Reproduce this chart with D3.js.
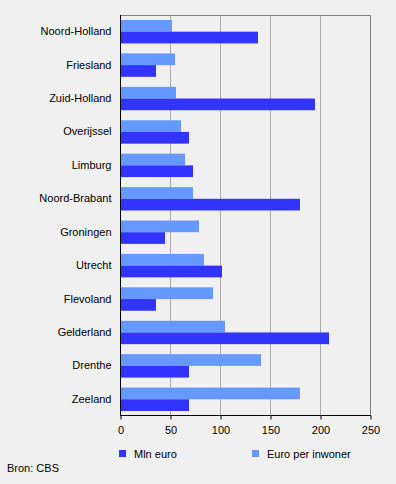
<!DOCTYPE html>
<html>
<head>
<meta charset="utf-8">
<script src="https://cdn.jsdelivr.net/npm/d3@7"></script>
<style>
  body { margin: 0; background: #f0f0f0; }
  svg { display: block; font-family: "Liberation Sans", Arial, sans-serif; }
</style>
</head>
<body>
<svg></svg>
<script>
// provincies, boven naar beneden
var provincies = ['Noord-Holland', 'Friesland', 'Zuid-Holland', 'Overijssel', 'Limburg', 'Noord-Brabant',
    'Groningen', 'Utrecht', 'Flevoland', 'Gelderland', 'Drenthe', 'Zeeland']
var mlnEuro = [138, 36, 195, 69, 73, 180, 45, 102, 36, 209, 69, 69]
var euroPerInwoner = [52, 55, 56, 61, 65, 73, 79, 84, 93, 105, 141, 180]
var ticks = [0, 50, 100, 150, 200, 250]
var seriesNames = ['Mln euro', 'Euro per inwoner']
var colors = ['#3333ff', '#6699ff']

var width = 396,
    height = 484,
    font = '"Liberation Sans", Arial, sans-serif';

var svg = d3.select('svg')
    .attr('width', width)
    .attr('height', height)

var xScale = d3.scaleLinear()
    .domain([0, 250])
    .range([120, 370])

var yScale = d3.scaleBand()
    .domain(provincies)
    .range([15, 416])
    .paddingInner(0.3)
    .paddingOuter(0.15)

var sub = d3.scaleBand()
    .domain(['inw', 'mln'])
    .range([0, yScale.bandwidth()])

// grid + frame
svg.append('g')
    .selectAll('line')
    .data(ticks.slice(1, -1))
    .join('line')
    .attr('x1', d => xScale(d) + 0.5)
    .attr('x2', d => xScale(d) + 0.5)
    .attr('y1', 15)
    .attr('y2', 416)
    .attr('stroke', '#aaaaaa')

svg.append('path')
    .attr('d', 'M' + (xScale(0)) + ',15.5H' + (xScale(250) + 0.5) + 'V416')
    .attr('fill', 'none')
    .attr('stroke', '#808080')

var rows = svg.selectAll('.row')
    .data(provincies)
    .join('g')
    .attr('class', 'row')

rows.append('rect')
    .attr('x', xScale(0))
    .attr('y', d => yScale(d))
    .attr('height', sub.bandwidth())
    .attr('width', (d, i) => xScale(euroPerInwoner[i]) - xScale(0))
    .attr('fill', colors[1])

rows.append('rect')
    .attr('x', xScale(0))
    .attr('y', d => yScale(d) + sub('mln'))
    .attr('height', sub.bandwidth())
    .attr('width', (d, i) => xScale(mlnEuro[i]) - xScale(0))
    .attr('fill', colors[0])

// y axis
var yAxis = d3.axisLeft(yScale).tickSize(0).tickPadding(9)
var yg = svg.append('g')
    .attr('transform', 'translate(120.5,0)')
    .call(yAxis)
    .attr('font-family', font)
    .attr('font-size', 11)
yg.select('.domain').attr('d', 'M0,15V416').attr('stroke', '#000')
yg.selectAll('text').attr('fill', '#000')

// x axis
var xAxis = d3.axisBottom(xScale).tickValues(ticks).tickSize(4).tickPadding(7)
var xg = svg.append('g')
    .attr('transform', 'translate(0.5,415.5)')
    .call(xAxis)
    .attr('font-family', font)
    .attr('font-size', 11)
xg.select('.domain').attr('d', 'M120,0H370').attr('stroke', '#000')
xg.selectAll('line').attr('stroke', '#000')
xg.selectAll('text').attr('fill', '#000')

// legend
var legend = svg.selectAll('.legend')
    .data(seriesNames)
    .join('g')
    .attr('class', 'legend')
    .attr('transform', (d, i) => 'translate(' + (i == 0 ? 119 : 252) + ',450)')

legend.append('rect')
    .attr('width', 7)
    .attr('height', 7)
    .attr('fill', (d, i) => colors[i])

legend.append('text')
    .attr('x', 15)
    .attr('y', 8)
    .style('font-size', '11px')
    .text(d => d)

svg.append('text')
    .attr('x', 7)
    .attr('y', 472)
    .style('font-size', '11px')
    .text('Bron: CBS')
</script>
</body>
</html>
